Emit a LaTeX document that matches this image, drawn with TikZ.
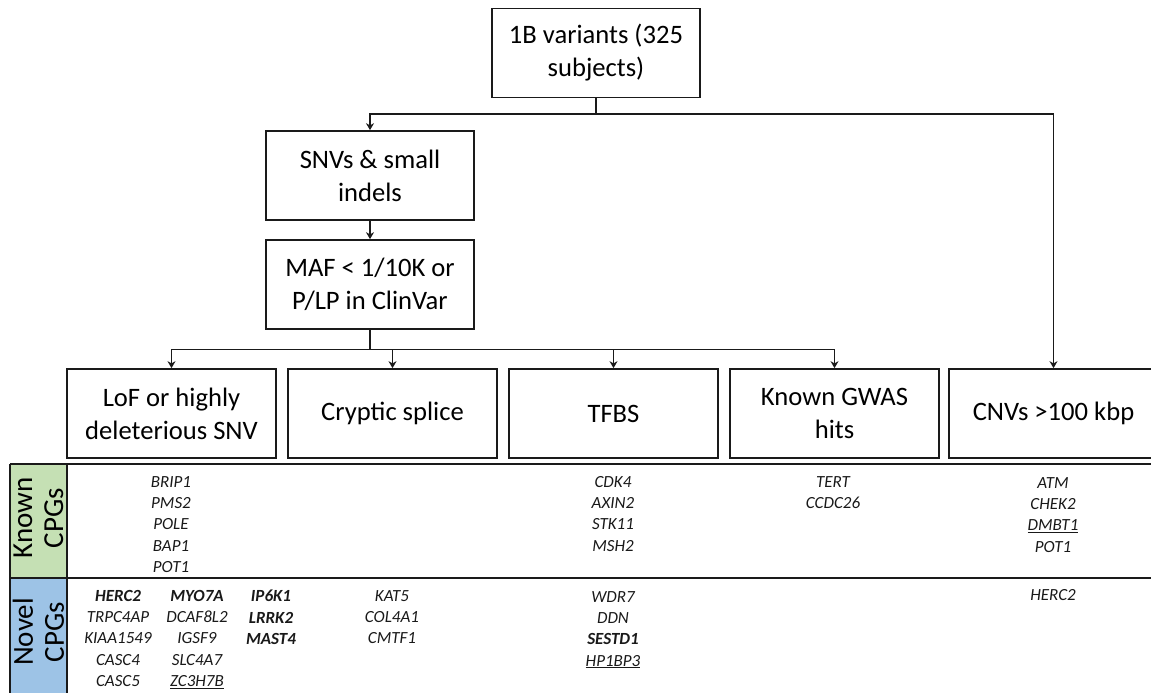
\documentclass[tikz,border=0pt]{standalone}
\usepackage{fontspec}
\setmainfont{Carlito}
\usetikzlibrary{arrows.meta}
\definecolor{knowngreen}{HTML}{C5E0B4}
\definecolor{novelblue}{HTML}{9DC3E6}
\definecolor{linegray}{HTML}{1A1A1A}
\begin{document}
\begin{tikzpicture}[x=1pt,y=-1pt,
  box/.style={draw=linegray,line width=1.7pt,minimum width=208,minimum height=89,inner sep=2pt,
    align=center,font=\fontsize{26.6}{33}\selectfont},
  arr/.style={line width=1.4pt,draw=linegray,-{Stealth[length=7pt,width=8pt]}},
  conn/.style={line width=1.4pt,draw=linegray},
  tbl/.style={line width=2.3pt,draw=linegray},
  gene/.style={inner sep=0pt,anchor=north,align=center,text=black!90,
    font=\fontsize{17}{21.3}\selectfont\itshape},
  side/.style={inner sep=0pt,rotate=90,align=center,font=\fontsize{29}{31}\selectfont}]
\useasboundingbox (0,0) rectangle (1151,693);
\fill[white] (0,0) rectangle (1151,693);

% boxes
\node[box] (top) at (596,53) {1B variants (325\\subjects)};
\node[box] (snv) at (370,175.5) {SNVs \& small\\indels};
\node[box] (maf) at (370,284.5) {MAF < 1/10K or\\P/LP in ClinVar};
\node[box,minimum width=209] (lof) at (171.5,413.5) {LoF or highly\\deleterious SNV};
\node[box,minimum width=209] (cry) at (392.5,413.5) {Cryptic splice};
\node[box,minimum width=209] (tfbs) at (613.5,413.5) {TFBS};
\node[box,minimum width=209] (gwas) at (834.5,413.5) {Known GWAS\\hits};
\node[box,minimum width=209] (cnv) at (1053.5,413.5) {CNVs >100 kbp};

% connectors
\coordinate (j1) at (596,114);
\coordinate (j2) at (370,349.5);
\draw[conn] (top.south) -- (j1);
\draw[arr] (j1) -| (snv.north);
\draw[arr] (j1) -| (cnv.north);
\draw[arr] (snv.south) -- (maf.north);
\draw[conn] (maf.south) -- (j2);
\draw[arr] (j2) -| (lof.north);
\draw[arr] (j2) -| (cry.north);
\draw[arr] (j2) -| (tfbs.north);
\draw[arr] (j2) -| (gwas.north);

% table
\fill[knowngreen] (10,464) rectangle (67,578);
\fill[novelblue] (10,578) rectangle (67,700);
\draw[tbl] (10,464) -- (1160,464);
\draw[tbl] (10,578) -- (1160,578);
\draw[tbl] (10,464) -- (10,700);
\draw[tbl] (67,464) -- (67,700);

\node[side] (known) at (38.5,518) {Known\\CPGs};
\node[side] (novel) at (38.5,632) {Novel\\CPGs};

% known genes
\node[gene] (k1) at (171,476) {BRIP1\\PMS2\\POLE\\BAP1\\POT1};
\node[gene] (k2) at (613,476) {CDK4\\AXIN2\\STK11\\MSH2};
\node[gene] (k3) at (833,476) {TERT\\CCDC26};
\node[gene] (k4) at (1053,477) {ATM\\CHEK2\\\underline{DMBT1}\\POT1};

% novel genes
\node[gene] (n1) at (118,590) {\bfseries HERC2\\TRPC4AP\\KIAA1549\\CASC4\\CASC5};
\node[gene] (n2) at (197,590) {\bfseries MYO7A\\DCAF8L2\\IGSF9\\SLC4A7\\\underline{ZC3H7B}};
\node[gene,font=\fontsize{17}{21.3}\selectfont\itshape\bfseries] (n3) at (271,590) {IP6K1\\LRRK2\\MAST4};
\node[gene] (n4) at (392,590) {KAT5\\COL4A1\\CMTF1};
\node[gene] (n5) at (613,591) {WDR7\\DDN\\\textbf{SESTD1}\\\underline{HP1BP3}};
\node[gene] (n6) at (1053,589) {HERC2};
\end{tikzpicture}
\end{document}
